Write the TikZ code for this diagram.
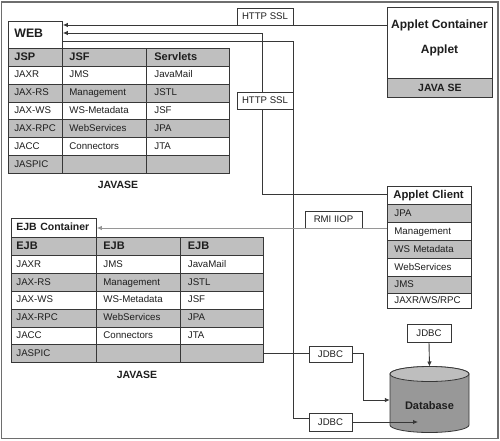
\documentclass[tikz,border=0pt]{standalone}
\usepackage{fontspec}
\setmainfont{Liberation Sans}
\usetikzlibrary{arrows.meta,backgrounds}
\definecolor{cellgray}{RGB}{191,191,191}
\definecolor{dbgray}{RGB}{152,152,152}
\definecolor{dbtopc}{RGB}{190,190,190}
\definecolor{linec}{RGB}{55,55,55}
\definecolor{lgline}{RGB}{150,150,150}
\definecolor{framec}{RGB}{110,110,110}
\definecolor{txt}{RGB}{30,30,30}
\begin{document}
\begin{tikzpicture}[x=1pt,y=-1pt,
  cell/.style={draw=linec, line width=0.8pt, anchor=north west, inner ysep=0pt,
    minimum height=17.86pt, text height=7.5pt, text depth=2pt, align=left,
    text=txt, font={\fontsize{9.7}{12}\selectfont\exhyphenpenalty=10000\hyphenpenalty=10000}},
  hdr/.style={font={\bfseries\fontsize{11}{13}\selectfont}},
  wa/.style={inner xsep=6pt, text width=42pt, minimum width=54pt},
  wb/.style={inner xsep=7pt, text width=70pt, minimum width=84pt},
  wc/.style={inner xsep=8pt, text width=67pt, minimum width=83pt},
  ea/.style={inner xsep=5pt, text width=75pt, minimum width=85pt},
  eb/.style={inner xsep=7pt, text width=70pt, minimum width=84pt},
  ec/.style={inner xsep=7.5pt, text width=68pt, minimum width=83pt},
  ca/.style={inner xsep=7pt, text width=70pt, minimum width=84pt},
  title/.style={font=\bfseries\fontsize{10.5}{12}\selectfont, text=txt},
  lbl/.style={draw=linec, line width=0.8pt, fill=white, inner sep=0pt,
    minimum height=17pt, font=\fontsize{9.6}{11}\selectfont, text=txt},
  conn/.style={draw=linec, line width=0.9pt},
  arr/.style={conn, -{Latex[length=5pt,width=4.5pt]}},
  garr/.style={draw=lgline, line width=0.9pt, -{Latex[length=5pt,width=4.5pt]}}
]
\useasboundingbox (0,0) rectangle (500,441);
\draw[framec, line width=1.2pt] (1.5,2) rectangle (498,438.5);

% ---------- WEB table ----------
\node[cell, wa, minimum height=27pt, fill=white, font=\bfseries\fontsize{12.3}{14}\selectfont] (web) at (8,21) {WEB};
\node[cell, hdr, wa, fill=cellgray] (w-0-1) at (8,48) {JSP};
\node[cell, hdr, wb, fill=cellgray] (w-0-2) at (62,48) {JSF};
\node[cell, hdr, wc, fill=cellgray] (w-0-3) at (146,48) {Servlets};
\foreach \r/\a/\b/\c/\f in {1/JAXR/JMS/JavaMail/white, 2/JAX-RS/Management/JSTL/cellgray,
  3/JAX-WS/WS-Metadata/JSF/white, 4/JAX-RPC/WebServices/JPA/cellgray,
  5/JACC/Connectors/JTA/white, 6/JASPIC/{}/{}/cellgray}{
  \pgfmathsetmacro\yy{48+\r*17.86}
  \node[cell, wa, fill=\f] (w-\r-1) at (8,\yy) {\a};
  \node[cell, wb, fill=\f] (w-\r-2) at (62,\yy) {\b};
  \node[cell, wc, fill=\f] (w-\r-3) at (146,\yy) {\c};
}
\node[title] (jse1) at (118,185) {JAVASE};

% ---------- EJB table ----------
\node[cell, ea, minimum height=19pt, fill=white, font=\bfseries\fontsize{10.5}{12}\selectfont] (ejb) at (11,218) {EJB Container};
\node[cell, hdr, ea, fill=cellgray] (e-0-1) at (11,237.3) {EJB};
\node[cell, hdr, eb, fill=cellgray] (e-0-2) at (96,237.3) {EJB};
\node[cell, hdr, ec, fill=cellgray] (e-0-3) at (180,237.3) {EJB};
\foreach \r/\a/\b/\c/\f in {1/JAXR/JMS/JavaMail/white, 2/JAX-RS/Management/JSTL/cellgray,
  3/JAX-WS/WS-Metadata/JSF/white, 4/JAX-RPC/WebServices/JPA/cellgray,
  5/JACC/Connectors/JTA/white, 6/JASPIC/{}/{}/cellgray}{
  \pgfmathsetmacro\yy{237.3+\r*17.86}
  \node[cell, ea, fill=\f] (e-\r-1) at (11,\yy) {\a};
  \node[cell, eb, fill=\f] (e-\r-2) at (96,\yy) {\b};
  \node[cell, ec, fill=\f] (e-\r-3) at (180,\yy) {\c};
}
\node[title] (jse2) at (137,375) {JAVASE};

% ---------- Applet container ----------
\node[draw=linec, line width=0.8pt, fill=white, anchor=north west, minimum width=105pt, minimum height=90pt, inner sep=0pt] (ac) at (387,7) {};
\node[draw=linec, line width=0.8pt, fill=cellgray, anchor=north west, minimum width=105pt, minimum height=19pt, inner sep=0pt, font=\bfseries\fontsize{10.5}{12}\selectfont, text=txt] (acband) at (387,78) {JAVA SE};
\node[font=\bfseries\fontsize{12}{14}\selectfont, text=txt] (actitle) at (439.5,25) {Applet Container};
\node[font=\bfseries\fontsize{12}{14}\selectfont, text=txt] (acapplet) at (439.5,50) {Applet};

% ---------- Applet client ----------
\node[cell, inner xsep=6pt, text width=72pt, minimum width=84pt, minimum height=18pt, fill=white, font=\bfseries\fontsize{11.3}{14}\selectfont] (c0) at (387,186) {Applet Client};
\node[cell, ca, minimum height=18pt, fill=cellgray] (c1) at (387,204) {JPA};
\node[cell, ca, minimum height=18pt, fill=white] (c2) at (387,222) {Management};
\node[cell, ca, minimum height=18pt, fill=cellgray] (c3) at (387,240) {WS Metadata};
\node[cell, ca, minimum height=18pt, fill=white] (c4) at (387,258) {WebServices};
\node[cell, ca, minimum height=17pt, fill=cellgray] (c5) at (387,276) {JMS};
\node[cell, ca, minimum height=15pt, fill=white] (c6) at (387,293) {JAXR/WS/RPC};

% ---------- Database ----------
\path[fill=dbgray, draw=linec, line width=0.8pt] (390,374) -- (390,425)
  arc[start angle=180, end angle=0, x radius=39.5, y radius=7.5] -- (469,374)
  arc[start angle=0, end angle=-180, x radius=39.5, y radius=7.5] -- cycle;
\draw[fill=dbtopc, draw=linec, line width=0.8pt] (429.5,374) ellipse [x radius=39.5, y radius=7.5];
\node[minimum width=79pt, minimum height=66pt, inner sep=0pt] (db) at (429.5,400) {};
\node[font=\bfseries\fontsize{11}{13}\selectfont, text=txt] (dblabel) at (429.5,406) {Database};
\coordinate (dbtop) at (429.5,366.5);
\coordinate (dbin) at (418,422);

% ---------- label boxes ----------
\node[lbl, minimum width=56pt] (h1) at (265,16.5) {HTTP SSL};
\node[lbl, minimum width=56pt] (h2) at (265,100.5) {HTTP SSL};
\node[lbl, minimum width=57pt] (rmi) at (333.5,219.5) {RMI IIOP};
\node[lbl, minimum width=43pt, minimum height=16pt] (j1) at (330.5,354) {JDBC};
\node[lbl, minimum width=43pt, minimum height=18pt] (j2) at (330.5,422) {JDBC};
\node[lbl, minimum width=44pt, minimum height=18pt] (j3) at (429,333) {JDBC};

% ---------- connectors ----------
\coordinate (l1s) at ([yshift=-18pt]ac.north west);
\draw[arr] (l1s) -- (l1s -| web.east);

\coordinate (l2s) at ([yshift=-8pt]c0.north west);
\coordinate (b2) at (262,33);
\begin{scope}[on background layer]
\draw[arr] (l2s) -| (b2) -- (b2 -| web.east);
\end{scope}

\coordinate (l3s) at ([yshift=-20pt]web.north east);
\coordinate (b3) at (293,418);
\draw[conn] (l3s) -| (b3) -- (b3 -| j2.west);
\draw[arr] (j2.east) -- (dbin);

\coordinate (l4s) at ([yshift=-42pt]c0.north west);
\draw[garr] (l4s) -- (l4s -| ejb.east);

\coordinate (l5a) at (e-6-3.east);
\draw[conn] (l5a) -- (l5a -| j1.west);
\draw[arr] (l5a -| j1.east) -- ++(11,0) |- (db.west);

\draw[arr] (j3.south) -- (dbtop);
\end{tikzpicture}
\end{document}
